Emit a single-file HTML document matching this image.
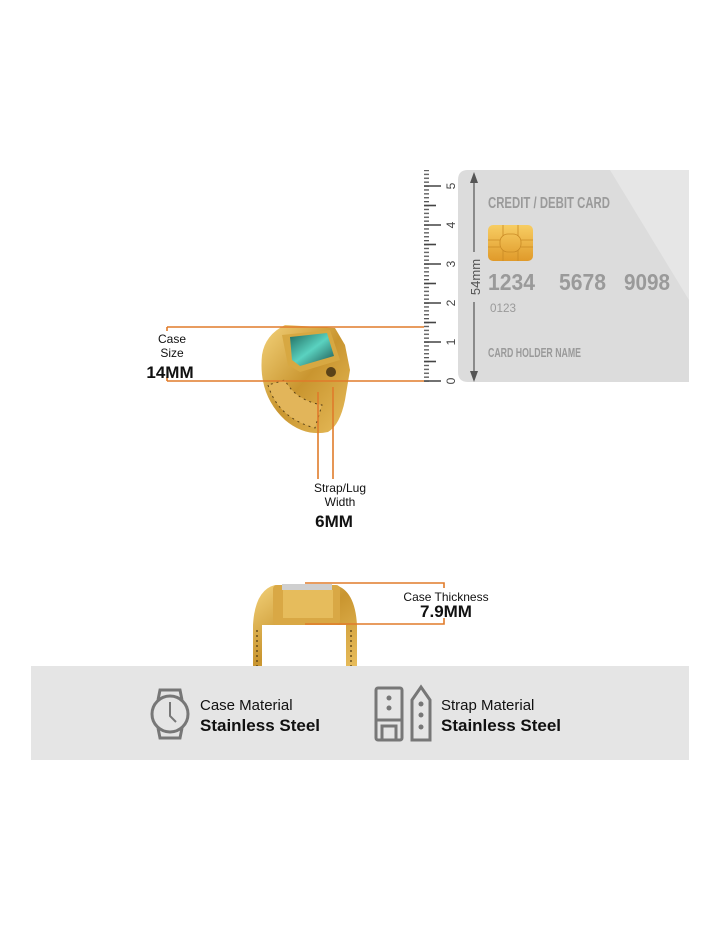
<!DOCTYPE html>
<html><head><meta charset="utf-8"><style>
html,body{margin:0;padding:0;background:#fff;}
body{width:720px;height:928px;position:relative;overflow:hidden;font-family:"Liberation Sans",sans-serif;}
</style></head><body>
<svg width="720" height="928" viewBox="0 0 720 928" xmlns="http://www.w3.org/2000/svg" style="position:absolute;left:0;top:0">
<defs>
<pattern id="tk" x="0" y="2.1" width="20" height="3.9" patternUnits="userSpaceOnUse">
<rect x="0" y="0" width="9" height="1.3" fill="#555"/>
</pattern>
<linearGradient id="gold" x1="0" y1="0" x2="1" y2="1">
<stop offset="0" stop-color="#f3d27a"/><stop offset="0.5" stop-color="#c9952f"/><stop offset="1" stop-color="#e8bd5c"/>
</linearGradient>
<linearGradient id="chip" x1="0" y1="0" x2="0" y2="1">
<stop offset="0" stop-color="#f7cd63"/><stop offset="1" stop-color="#e09a2a"/>
</linearGradient>
<linearGradient id="gem" x1="0" y1="0" x2="1" y2="1">
<stop offset="0" stop-color="#1f6a5e"/><stop offset="0.5" stop-color="#5ad2c0"/><stop offset="1" stop-color="#1b4f4a"/>
</linearGradient>
</defs>

<!-- card -->
<path d="M468 170 H689 V382 H468 Q458 382 458 372 V180 Q458 170 468 170Z" fill="#dcdcdc"/>
<path d="M610 170 H689 V300 Z" fill="#e6e6e6"/>
<line x1="474" y1="176" x2="474" y2="380" stroke="#555" stroke-width="1.2"/>
<polygon points="474,172 470,183 478,183" fill="#555"/>
<polygon points="474,382 470,371 478,371" fill="#555"/>
<rect x="466" y="252" width="16" height="50" fill="#dcdcdc"/>
<text transform="translate(480,277) rotate(-90)" text-anchor="middle" font-size="13" fill="#555">54mm</text>
<g fill="#9a9a9a" font-weight="bold">
<text x="488" y="208" font-size="16" textLength="122" lengthAdjust="spacingAndGlyphs">CREDIT / DEBIT CARD</text>
<text x="488" y="290" font-size="23" textLength="47" lengthAdjust="spacingAndGlyphs">1234</text>
<text x="559" y="290" font-size="23" textLength="47" lengthAdjust="spacingAndGlyphs">5678</text>
<text x="624" y="290" font-size="23" textLength="46" lengthAdjust="spacingAndGlyphs">9098</text>
<text x="490" y="312" font-size="12" font-weight="normal" textLength="26" lengthAdjust="spacingAndGlyphs">0123</text>
<text x="488" y="357" font-size="13" textLength="93" lengthAdjust="spacingAndGlyphs">CARD HOLDER NAME</text>
</g>
<rect x="488" y="225" width="45" height="36" rx="5" fill="url(#chip)"/>
<path d="M503 225 V236 M518 225 V236 M503 250 V261 M518 250 V261 M488 240 H500 M521 240 H533 M488 247 H500 M521 247 H533" stroke="#c98a25" stroke-width="0.8"/>
<rect x="500" y="234" width="21" height="18" rx="8" fill="none" stroke="#c98a25" stroke-width="0.8"/>

<!-- ruler -->
<rect x="424" y="170" width="10" height="213" fill="url(#tk)"/>
<g stroke="#444" stroke-width="1.6">
<line x1="424" y1="381" x2="441" y2="381"/><line x1="424" y1="342" x2="441" y2="342"/>
<line x1="424" y1="303" x2="441" y2="303"/><line x1="424" y1="264" x2="441" y2="264"/>
<line x1="424" y1="225" x2="441" y2="225"/><line x1="424" y1="186" x2="441" y2="186"/>
<line x1="424" y1="361.5" x2="436" y2="361.5"/><line x1="424" y1="322.5" x2="436" y2="322.5"/>
<line x1="424" y1="283.5" x2="436" y2="283.5"/><line x1="424" y1="244.5" x2="436" y2="244.5"/>
<line x1="424" y1="205.5" x2="436" y2="205.5"/>
</g>
<g font-size="12" fill="#444">
<text transform="translate(455,381) rotate(-90)" text-anchor="middle">0</text>
<text transform="translate(455,342) rotate(-90)" text-anchor="middle">1</text>
<text transform="translate(455,303) rotate(-90)" text-anchor="middle">2</text>
<text transform="translate(455,264) rotate(-90)" text-anchor="middle">3</text>
<text transform="translate(455,225) rotate(-90)" text-anchor="middle">4</text>
<text transform="translate(455,186) rotate(-90)" text-anchor="middle">5</text>
</g>

<!-- ring top -->
<path d="M262 355 Q258 395 285 420 Q305 437 328 432 Q340 425 345 400 L350 370 L345 345 L335 328 L285 325 Q265 335 262 355Z" fill="url(#gold)"/>
<path d="M268 385 Q278 418 315 428 L322 405 Q295 400 285 380Z" fill="#e2b55a" stroke="#5a4218" stroke-width="1" stroke-dasharray="2 4"/>
<path d="M282 335 L330 330 L340 360 L300 372 L288 365Z" fill="#d7a842"/>
<path d="M290 337 L327 333 L334 356 L300 366 L292 360Z" fill="url(#gem)"/>
<circle cx="331" cy="372" r="5" fill="#5a4218"/>
<!-- ring bottom -->
<path d="M253 666 L253 625 Q255 590 275 585 L335 585 Q355 590 357 625 L357 666 L346 666 L346 625 L262 625 L262 666Z" fill="url(#gold)"/>
<rect x="273" y="585" width="67" height="40" rx="4" fill="#d9a845"/>
<rect x="283" y="590" width="50" height="28" fill="#e6bc5c"/>
<rect x="282" y="584" width="50" height="6" fill="#cfcfcf"/>
<g stroke="#4a3510" stroke-width="1.2" stroke-dasharray="2 3"><line x1="257" y1="630" x2="257" y2="666"/><line x1="351" y1="630" x2="351" y2="666"/></g>

<!-- orange lines -->
<g stroke="#e07b2a" stroke-width="1.6" fill="none">
<line x1="167" y1="327" x2="424" y2="327"/>
<line x1="167" y1="381" x2="424" y2="381"/>
<line x1="167" y1="327" x2="167" y2="331"/>
<line x1="167" y1="377" x2="167" y2="381"/>
<line x1="318" y1="392" x2="318" y2="479"/>
<line x1="333" y1="387" x2="333" y2="479"/>
<path d="M305 583 H444 V624 H305"/>
</g>
<g fill="#111" text-anchor="middle">
<text x="172" y="343" font-size="12">Case</text>
<text x="172" y="357" font-size="12">Size</text>
<text x="170" y="378" font-size="17" font-weight="bold">14MM</text>
<text x="340" y="492" font-size="12">Strap/Lug</text>
<text x="340" y="506" font-size="12">Width</text>
<text x="334" y="527" font-size="17" font-weight="bold">6MM</text>
<rect x="400" y="588" width="90" height="30" fill="#fff"/>
<text x="446" y="601" font-size="12">Case Thickness</text>
<text x="446" y="617" font-size="17" font-weight="bold">7.9MM</text>
</g>

<!-- bottom band -->
<rect x="31" y="666" width="658" height="94" fill="#e5e5e5"/>
<g fill="none" stroke="#777" stroke-width="3">
<circle cx="170" cy="714" r="18"/>
<path d="M158 700 L160 690 H180 L182 700 M158 728 L160 738 H180 L182 728"/>
<path d="M170 702 V716 L176 722" stroke-width="2"/>
<rect x="376" y="688" width="26" height="52" rx="2"/>
<path d="M376 720 H402 M382 740 V726 H396 V740"/>
<path d="M412 740 V700 L421 687 L430 700 V740Z"/>
</g>
<g fill="#777"><circle cx="389" cy="698" r="2.5"/><circle cx="389" cy="708" r="2.5"/>
<circle cx="421" cy="704" r="2.5"/><circle cx="421" cy="715" r="2.5"/><circle cx="421" cy="727" r="2.5"/></g>
<g fill="#111">
<text x="200" y="710" font-size="15">Case Material</text>
<text x="200" y="731" font-size="17" font-weight="bold">Stainless Steel</text>
<text x="441" y="710" font-size="15">Strap Material</text>
<text x="441" y="731" font-size="17" font-weight="bold">Stainless Steel</text>
</g>
</svg>
</body></html>
